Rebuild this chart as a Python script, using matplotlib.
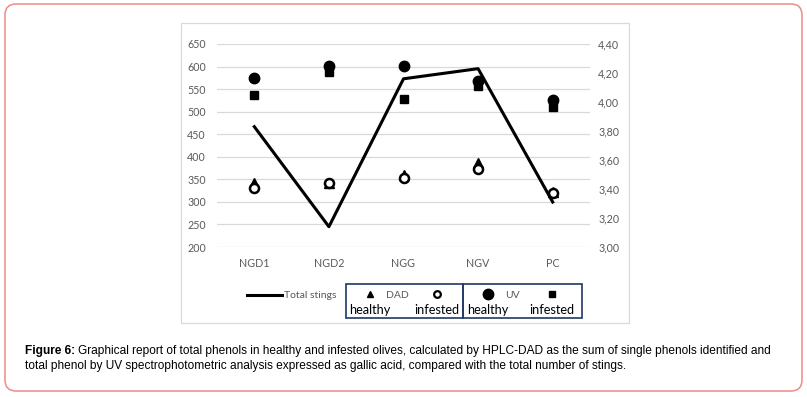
import numpy as np
import matplotlib.pyplot as plt
from matplotlib.patches import FancyBboxPatch, Rectangle
from matplotlib.lines import Line2D
from matplotlib.ticker import FuncFormatter

# valeurs
categories = ['NGD1', 'NGD2', 'NGG', 'NGV', 'PC']
dad_healthy = [342, 342, 359, 387, 322]
dad_infested = [331, 342, 354, 372, 319]
uv_healthy = [575, 602, 601, 569, 525]
uv_infested = [537, 588, 528, 556, 510]
total_stings = [3.83, 3.14, 4.16, 4.23, 3.31]

left_ticks = np.arange(200, 651, 50)
right_ticks = np.arange(3.0, 4.41, 0.2)

W, H = 807, 397
fig = plt.figure(figsize=(W / 100, H / 100), dpi=100)
plt.rcParams['font.family'] = ['Lato', 'DejaVu Sans']

# fond : cadre rouge arrondi + cadre du graphique
bg = fig.add_axes([0, 0, 1, 1])
bg.set_xlim(0, W)
bg.set_ylim(H, 0)
bg.axis('off')
bg.add_patch(FancyBboxPatch((5, 4), W - 10, H - 10, boxstyle='round,pad=0,rounding_size=11',
                            fc='white', ec='#f08a8a', lw=1.1))
bg.add_patch(Rectangle((181, 23), 448, 300, fc='white', ec='#d9d9d9', lw=0.9))

# axes principaux
ax = fig.add_axes([217 / W, 1 - 247 / H, 373 / W, 203 / H])
x = np.arange(len(categories))
ax.set_xlim(-0.5, len(categories) - 0.5)
ax.set_ylim(200, 650)
ax.set_yticks(left_ticks)
ax.set_xticks(x)
ax.set_xticklabels(categories)
ax.grid(axis='y', color='#d9d9d9', lw=0.9)
ax.set_axisbelow(True)
for s in ax.spines.values():
    s.set_visible(False)
ax.tick_params(length=0, labelsize=7.7, colors='#595959')
ax.tick_params(axis='y', pad=8)
ax.tick_params(axis='x', pad=8)
ax.patch.set_alpha(0)

ax2 = ax.twinx()
ax2.set_ylim(3.0, 4.4)
ax2.set_yticks(right_ticks)
ax2.yaxis.set_major_formatter(FuncFormatter(lambda v, p: f'{v:.2f}'.replace('.', ',')))
for s in ax2.spines.values():
    s.set_visible(False)
ax2.tick_params(length=0, labelsize=7.7, colors='#595959', pad=6)
ax2.patch.set_visible(False)
ax2.set_zorder(0)
ax.set_zorder(1)

ax.plot(x, dad_healthy, ls='none', marker='^', ms=6.5, color='black', zorder=3)
ax.plot(x, dad_infested, ls='none', marker='o', ms=6.5, mfc='white', mec='black', mew=1.8, zorder=4)
ax.plot(x, uv_healthy, ls='none', marker='o', ms=7.5, color='black', zorder=3)
ax.plot(x, uv_infested, ls='none', marker='s', ms=5.8, color='black', zorder=4)

# la ligne (axe de droite) ramenée à l'échelle de gauche pour passer au-dessus des marqueurs
ax.plot(x, np.interp(total_stings, ax2.get_ylim(), ax.get_ylim()), color='black', lw=2.2, zorder=5)

# légende personnalisée
lg = fig.add_axes([0, 0, 1, 1])
lg.set_xlim(0, W)
lg.set_ylim(H, 0)
lg.axis('off')
lg.add_line(Line2D([247, 282], [295, 295], color='black', lw=2.2))
lg.text(284, 296, 'Total stings', fontsize=7.5, color='#595959', va='center', ha='left')
navy = '#1f3864'
lg.add_patch(Rectangle((346, 284), 117, 34, fill=False, ec=navy, lw=1.2))
lg.add_patch(Rectangle((463, 284), 119, 34, fill=False, ec=navy, lw=1.2))
lg.plot([370], [294], marker='^', ms=4.5, color='black', ls='none')
lg.text(386, 295, 'DAD', fontsize=7.5, color='#595959', va='center')
lg.plot([437], [294], marker='o', ms=4.8, mfc='white', mec='black', mew=1.6, ls='none')
lg.plot([488], [294], marker='o', ms=7.5, color='black', ls='none')
lg.text(505, 295, 'UV', fontsize=7.5, color='#595959', va='center')
lg.plot([552], [294], marker='s', ms=5, color='black', ls='none')
for xt, t in [(349, 'healthy'), (414, 'infested'), (467, 'healthy'), (529, 'infested')]:
    lg.text(xt, 310, t, fontsize=9.2, color='black', va='center', ha='left')

# légende de la figure
cap_font = ['Liberation Sans Narrow', 'Liberation Sans', 'DejaVu Sans']
t1 = lg.text(25, 351, 'Figure 6:', fontsize=8.6, fontweight='bold', family=cap_font, va='center')
fig.canvas.draw()
bb = t1.get_window_extent()
x_after = bb.x1 + 3
lg.text(x_after, 351, 'Graphical report of total phenols in healthy and infested olives, calculated by HPLC-DAD '
        'as the sum of single phenols identified and', fontsize=8.6, family=cap_font, va='center')
lg.text(25, 366, 'total phenol by UV spectrophotometric analysis expressed as gallic acid, compared with '
        'the total number of stings.', fontsize=8.6, family=cap_font, va='center')

fig.savefig('out.png', dpi=100)
